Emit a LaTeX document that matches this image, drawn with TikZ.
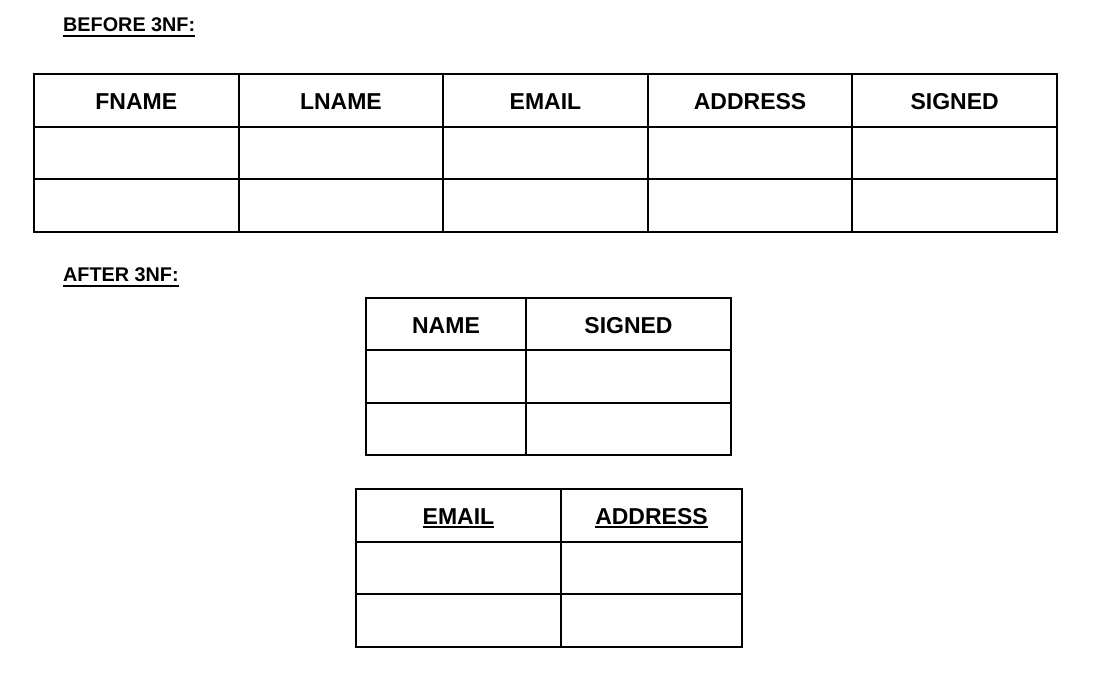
\documentclass[tikz,border=0pt]{standalone}
\usepackage{fontspec}
\setmainfont{Liberation Sans}
\begin{document}
\begin{tikzpicture}[x=1pt,y=-1pt,
  cell/.style={draw=black, line width=2pt, inner sep=0pt, anchor=north west},
  label/.style={inner sep=0pt, anchor=base, font=\fontsize{23}{26}\selectfont\bfseries},
  head/.style={inner sep=0pt, anchor=base west, font=\fontsize{19.8}{22}\selectfont\bfseries},
  uline/.style={line width=2pt}]
\useasboundingbox[fill=white] (0,0) rectangle (1096,696);
% headings
\node[head] (before) at (63,31) {BEFORE 3NF:};
\draw[uline] ([yshift=-4.5pt]before.base west) -- ([yshift=-4.5pt]before.base east);
\node[head] (after) at (63,281) {AFTER 3NF:};
\draw[uline] ([yshift=-4.5pt]after.base west) -- ([yshift=-4.5pt]after.base east);
% table 1
\foreach \c/\x/\t in {1/33/FNAME,2/237.6/LNAME,3/442.2/EMAIL,4/646.8/ADDRESS,5/851.4/SIGNED}{
  \node[cell, minimum width=204.6pt, minimum height=52.7pt] (ta-h\c) at (\x,73) {};
  \node[cell, minimum width=204.6pt, minimum height=52.7pt] (ta-r1c\c) at (\x,125.7) {};
  \node[cell, minimum width=204.6pt, minimum height=52.7pt] (ta-r2c\c) at (\x,178.3) {};
  \node[label] (ta-t\c) at ([yshift=-9.6pt]ta-h\c.center) {\t};
}
% table 2
\node[cell, minimum width=160pt, minimum height=52.3pt] (tb-h1) at (365,297) {};
\node[cell, minimum width=205pt, minimum height=52.3pt] (tb-h2) at (525,297) {};
\node[cell, minimum width=160pt, minimum height=52.3pt] (tb-r1c1) at (365,349.3) {};
\node[cell, minimum width=205pt, minimum height=52.3pt] (tb-r1c2) at (525,349.3) {};
\node[cell, minimum width=160pt, minimum height=52.4pt] (tb-r2c1) at (365,401.6) {};
\node[cell, minimum width=205pt, minimum height=52.4pt] (tb-r2c2) at (525,401.6) {};
\node[label] (name) at ([yshift=-9.8pt]tb-h1.center) {NAME};
\node[label] (signed) at ([yshift=-9.8pt]tb-h2.center) {SIGNED};
% table 3
\node[cell, minimum width=205pt, minimum height=52.7pt] (tc-h1) at (355,488) {};
\node[cell, minimum width=181pt, minimum height=52.7pt] (tc-h2) at (560,488) {};
\node[cell, minimum width=205pt, minimum height=52.7pt] (tc-r1c1) at (355,540.7) {};
\node[cell, minimum width=181pt, minimum height=52.7pt] (tc-r1c2) at (560,540.7) {};
\node[cell, minimum width=205pt, minimum height=52.6pt] (tc-r2c1) at (355,593.4) {};
\node[cell, minimum width=181pt, minimum height=52.6pt] (tc-r2c2) at (560,593.4) {};
\node[label] (email) at ([yshift=-9pt]tc-h1.center) {EMAIL};
\draw[uline] ([yshift=-2.8pt]email.base west) -- ([yshift=-2.8pt]email.base east);
\node[label] (address) at ([yshift=-9pt]tc-h2.center) {ADDRESS};
\draw[uline] ([yshift=-2.8pt]address.base west) -- ([yshift=-2.8pt]address.base east);
\end{tikzpicture}
\end{document}
